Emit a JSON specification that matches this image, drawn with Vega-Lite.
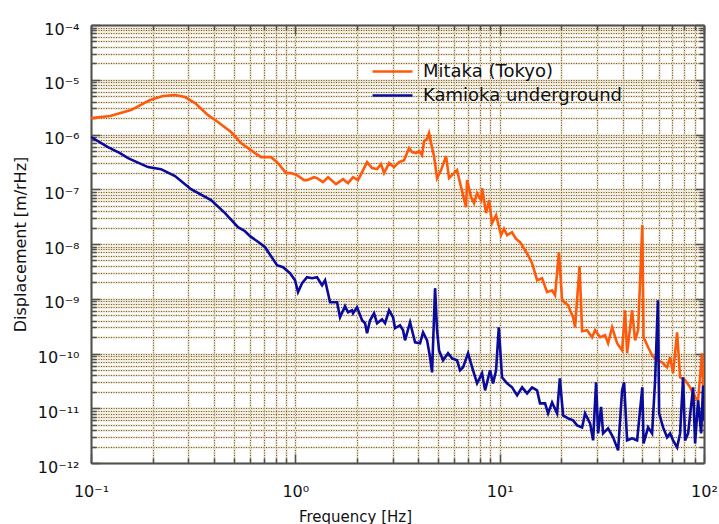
{
  "$schema": "https://vega.github.io/schema/vega-lite/v6.json",
  "autosize": {"type": "none"},
  "width": 613,
  "height": 438,
  "padding": {"left": 91, "top": 25, "right": 15, "bottom": 61},
  "background": "white",
  "config": {
    "font": "DejaVu Sans",
    "view": {"stroke": null},
    "axis": {
      "domainColor": "#505050",
      "domainWidth": 2,
      "tickColor": "#505050",
      "tickWidth": 1.5,
      "labelFont": "DejaVu Sans",
      "labelFontSize": 16,
      "labelColor": "#111111",
      "titleFont": "DejaVu Sans",
      "titleFontSize": 15,
      "titleFontWeight": "normal",
      "titleColor": "#111111",
      "labelOverlap": false,
      "labelFlush": false,
      "labelBound": false
    }
  },
  "data": {
    "values": [
      {"series":"Mitaka (Tokyo)","f":0.1,"d":1.99e-6},
      {"series":"Mitaka (Tokyo)","f":0.124,"d":2.17e-6},
      {"series":"Mitaka (Tokyo)","f":0.157,"d":2.79e-6},
      {"series":"Mitaka (Tokyo)","f":0.1945,"d":4.26e-6},
      {"series":"Mitaka (Tokyo)","f":0.225,"d":5.04e-6},
      {"series":"Mitaka (Tokyo)","f":0.2577,"d":5.25e-6},
      {"series":"Mitaka (Tokyo)","f":0.2884,"d":4.83e-6},
      {"series":"Mitaka (Tokyo)","f":0.323,"d":3.75e-6},
      {"series":"Mitaka (Tokyo)","f":0.374,"d":2.26e-6},
      {"series":"Mitaka (Tokyo)","f":0.418,"d":1.69e-6},
      {"series":"Mitaka (Tokyo)","f":0.4845,"d":1.11e-6},
      {"series":"Mitaka (Tokyo)","f":0.542,"d":6.96e-7},
      {"series":"Mitaka (Tokyo)","f":0.587,"d":5.64e-7},
      {"series":"Mitaka (Tokyo)","f":0.635,"d":4.57e-7},
      {"series":"Mitaka (Tokyo)","f":0.68,"d":3.86e-7},
      {"series":"Mitaka (Tokyo)","f":0.76,"d":3.86e-7},
      {"series":"Mitaka (Tokyo)","f":0.823,"d":3.0e-7},
      {"series":"Mitaka (Tokyo)","f":0.901,"d":1.97e-7},
      {"series":"Mitaka (Tokyo)","f":0.953,"d":1.97e-7},
      {"series":"Mitaka (Tokyo)","f":1.019,"d":1.81e-7},
      {"series":"Mitaka (Tokyo)","f":1.103,"d":1.47e-7},
      {"series":"Mitaka (Tokyo)","f":1.141,"d":1.47e-7},
      {"series":"Mitaka (Tokyo)","f":1.234,"d":1.66e-7},
      {"series":"Mitaka (Tokyo)","f":1.277,"d":1.6e-7},
      {"series":"Mitaka (Tokyo)","f":1.366,"d":1.35e-7},
      {"series":"Mitaka (Tokyo)","f":1.446,"d":1.66e-7},
      {"series":"Mitaka (Tokyo)","f":1.582,"d":1.24e-7},
      {"series":"Mitaka (Tokyo)","f":1.712,"d":1.53e-7},
      {"series":"Mitaka (Tokyo)","f":1.811,"d":1.29e-7},
      {"series":"Mitaka (Tokyo)","f":1.916,"d":1.66e-7},
      {"series":"Mitaka (Tokyo)","f":2.027,"d":1.47e-7},
      {"series":"Mitaka (Tokyo)","f":2.145,"d":2.24e-7},
      {"series":"Mitaka (Tokyo)","f":2.244,"d":3.13e-7},
      {"series":"Mitaka (Tokyo)","f":2.374,"d":2.43e-7},
      {"series":"Mitaka (Tokyo)","f":2.511,"d":2.33e-7},
      {"series":"Mitaka (Tokyo)","f":2.627,"d":2.88e-7},
      {"series":"Mitaka (Tokyo)","f":2.718,"d":1.97e-7},
      {"series":"Mitaka (Tokyo)","f":2.875,"d":3.0e-7},
      {"series":"Mitaka (Tokyo)","f":3.042,"d":2.54e-7},
      {"series":"Mitaka (Tokyo)","f":3.218,"d":3.13e-7},
      {"series":"Mitaka (Tokyo)","f":3.405,"d":3.4e-7},
      {"series":"Mitaka (Tokyo)","f":3.602,"d":5.64e-7},
      {"series":"Mitaka (Tokyo)","f":3.726,"d":4.77e-7},
      {"series":"Mitaka (Tokyo)","f":3.898,"d":4.57e-7},
      {"series":"Mitaka (Tokyo)","f":4.032,"d":4.97e-7},
      {"series":"Mitaka (Tokyo)","f":4.171,"d":4.2e-7},
      {"series":"Mitaka (Tokyo)","f":4.266,"d":7.57e-7},
      {"series":"Mitaka (Tokyo)","f":4.413,"d":8.24e-7},
      {"series":"Mitaka (Tokyo)","f":4.512,"d":1.06e-6},
      {"series":"Mitaka (Tokyo)","f":4.615,"d":6.96e-7},
      {"series":"Mitaka (Tokyo)","f":4.774,"d":4.03e-7},
      {"series":"Mitaka (Tokyo)","f":4.938,"d":1.6e-7},
      {"series":"Mitaka (Tokyo)","f":5.166,"d":2.24e-7},
      {"series":"Mitaka (Tokyo)","f":5.466,"d":4.03e-7},
      {"series":"Mitaka (Tokyo)","f":5.654,"d":1.6e-7},
      {"series":"Mitaka (Tokyo)","f":5.982,"d":1.97e-7},
      {"series":"Mitaka (Tokyo)","f":6.187,"d":2.24e-7},
      {"series":"Mitaka (Tokyo)","f":6.473,"d":1.09e-7},
      {"series":"Mitaka (Tokyo)","f":6.849,"d":4.71e-8},
      {"series":"Mitaka (Tokyo)","f":6.925,"d":1.47e-7},
      {"series":"Mitaka (Tokyo)","f":7.244,"d":7.17e-8},
      {"series":"Mitaka (Tokyo)","f":7.494,"d":5.57e-8},
      {"series":"Mitaka (Tokyo)","f":7.752,"d":8.48e-8},
      {"series":"Mitaka (Tokyo)","f":8.11,"d":6.32e-8},
      {"series":"Mitaka (Tokyo)","f":8.202,"d":1.05e-7},
      {"series":"Mitaka (Tokyo)","f":8.58,"d":3.66e-8},
      {"series":"Mitaka (Tokyo)","f":8.876,"d":6.32e-8},
      {"series":"Mitaka (Tokyo)","f":9.18,"d":2.4e-8},
      {"series":"Mitaka (Tokyo)","f":9.603,"d":3.36e-8},
      {"series":"Mitaka (Tokyo)","f":10.16,"d":1.45e-8},
      {"series":"Mitaka (Tokyo)","f":10.5,"d":1.9e-8},
      {"series":"Mitaka (Tokyo)","f":10.87,"d":1.45e-8},
      {"series":"Mitaka (Tokyo)","f":11.5,"d":1.64e-8},
      {"series":"Mitaka (Tokyo)","f":12.0,"d":1.25e-8},
      {"series":"Mitaka (Tokyo)","f":12.59,"d":1.08e-8},
      {"series":"Mitaka (Tokyo)","f":13.31,"d":7.7e-9},
      {"series":"Mitaka (Tokyo)","f":13.77,"d":6.24e-9},
      {"series":"Mitaka (Tokyo)","f":14.41,"d":4.46e-9},
      {"series":"Mitaka (Tokyo)","f":15.24,"d":2.18e-9},
      {"series":"Mitaka (Tokyo)","f":16.13,"d":2.37e-9},
      {"series":"Mitaka (Tokyo)","f":17.06,"d":1.32e-9},
      {"series":"Mitaka (Tokyo)","f":18.05,"d":1.43e-9},
      {"series":"Mitaka (Tokyo)","f":18.67,"d":1.16e-9},
      {"series":"Mitaka (Tokyo)","f":19.5,"d":7.08e-9},
      {"series":"Mitaka (Tokyo)","f":20.21,"d":9.39e-10},
      {"series":"Mitaka (Tokyo)","f":21.61,"d":7.61e-10},
      {"series":"Mitaka (Tokyo)","f":22.87,"d":4.59e-10},
      {"series":"Mitaka (Tokyo)","f":23.39,"d":3.01e-10},
      {"series":"Mitaka (Tokyo)","f":24.6,"d":3.93e-9},
      {"series":"Mitaka (Tokyo)","f":25.32,"d":2.55e-10},
      {"series":"Mitaka (Tokyo)","f":26.78,"d":2.66e-10},
      {"series":"Mitaka (Tokyo)","f":28.33,"d":1.98e-10},
      {"series":"Mitaka (Tokyo)","f":29.31,"d":2.66e-10},
      {"series":"Mitaka (Tokyo)","f":31.01,"d":1.98e-10},
      {"series":"Mitaka (Tokyo)","f":32.81,"d":2.15e-10},
      {"series":"Mitaka (Tokyo)","f":33.93,"d":1.54e-10},
      {"series":"Mitaka (Tokyo)","f":35.5,"d":3.01e-10},
      {"series":"Mitaka (Tokyo)","f":37.56,"d":1.54e-10},
      {"series":"Mitaka (Tokyo)","f":39.73,"d":1.14e-10},
      {"series":"Mitaka (Tokyo)","f":41.1,"d":6.16e-10},
      {"series":"Mitaka (Tokyo)","f":42.04,"d":1.01e-10},
      {"series":"Mitaka (Tokyo)","f":44.48,"d":6.16e-10},
      {"series":"Mitaka (Tokyo)","f":46.01,"d":1.74e-10},
      {"series":"Mitaka (Tokyo)","f":47.6,"d":2.66e-10},
      {"series":"Mitaka (Tokyo)","f":49.9,"d":2.21e-8},
      {"series":"Mitaka (Tokyo)","f":50.6,"d":1.98e-10},
      {"series":"Mitaka (Tokyo)","f":53.27,"d":1.3e-10},
      {"series":"Mitaka (Tokyo)","f":55.72,"d":9.27e-11},
      {"series":"Mitaka (Tokyo)","f":58.96,"d":7.51e-11},
      {"series":"Mitaka (Tokyo)","f":62.36,"d":6.9e-11},
      {"series":"Mitaka (Tokyo)","f":65.97,"d":5.59e-11},
      {"series":"Mitaka (Tokyo)","f":68.24,"d":8.52e-11},
      {"series":"Mitaka (Tokyo)","f":70.59,"d":4.34e-11},
      {"series":"Mitaka (Tokyo)","f":73.85,"d":2.44e-10},
      {"series":"Mitaka (Tokyo)","f":76.39,"d":3.67e-11},
      {"series":"Mitaka (Tokyo)","f":80.82,"d":3.24e-11},
      {"series":"Mitaka (Tokyo)","f":85.5,"d":2.41e-11},
      {"series":"Mitaka (Tokyo)","f":90.45,"d":1.58e-11},
      {"series":"Mitaka (Tokyo)","f":93.57,"d":1.39e-11},
      {"series":"Mitaka (Tokyo)","f":97.88,"d":1.01e-10},
      {"series":"Mitaka (Tokyo)","f":98.99,"d":2.85e-11},
      {"series":"Mitaka (Tokyo)","f":100,"d":1.39e-11},
      {"series":"Kamioka underground","f":0.1,"d":8.96e-7},
      {"series":"Kamioka underground","f":0.1211,"d":5.88e-7},
      {"series":"Kamioka underground","f":0.1386,"d":4.57e-7},
      {"series":"Kamioka underground","f":0.1518,"d":3.7e-7},
      {"series":"Kamioka underground","f":0.1901,"d":2.54e-7},
      {"series":"Kamioka underground","f":0.2201,"d":2.33e-7},
      {"series":"Kamioka underground","f":0.2577,"d":1.74e-7},
      {"series":"Kamioka underground","f":0.3087,"d":1.0e-7},
      {"series":"Kamioka underground","f":0.3867,"d":6.32e-8},
      {"series":"Kamioka underground","f":0.4528,"d":3.66e-8},
      {"series":"Kamioka underground","f":0.5243,"d":2.03e-8},
      {"series":"Kamioka underground","f":0.5673,"d":1.71e-8},
      {"series":"Kamioka underground","f":0.6005,"d":1.39e-8},
      {"series":"Kamioka underground","f":0.6718,"d":1.03e-8},
      {"series":"Kamioka underground","f":0.7108,"d":8.74e-9},
      {"series":"Kamioka underground","f":0.8136,"d":4.1e-9},
      {"series":"Kamioka underground","f":0.8706,"d":3.77e-9},
      {"series":"Kamioka underground","f":0.9421,"d":2.93e-9},
      {"series":"Kamioka underground","f":0.9966,"d":2.18e-9},
      {"series":"Kamioka underground","f":1.031,"d":1.32e-9},
      {"series":"Kamioka underground","f":1.079,"d":1.92e-9},
      {"series":"Kamioka underground","f":1.141,"d":2.47e-9},
      {"series":"Kamioka underground","f":1.207,"d":2.37e-9},
      {"series":"Kamioka underground","f":1.277,"d":2.47e-9},
      {"series":"Kamioka underground","f":1.351,"d":1.77e-9},
      {"series":"Kamioka underground","f":1.398,"d":2.18e-9},
      {"series":"Kamioka underground","f":1.479,"d":8.63e-10},
      {"series":"Kamioka underground","f":1.6,"d":8.63e-10},
      {"series":"Kamioka underground","f":1.655,"d":4.59e-10},
      {"series":"Kamioka underground","f":1.751,"d":7.32e-10},
      {"series":"Kamioka underground","f":1.811,"d":5.66e-10},
      {"series":"Kamioka underground","f":1.894,"d":6.16e-10},
      {"series":"Kamioka underground","f":1.916,"d":5.43e-10},
      {"series":"Kamioka underground","f":2.004,"d":6.99e-10},
      {"series":"Kamioka underground","f":2.121,"d":4.05e-10},
      {"series":"Kamioka underground","f":2.194,"d":3.57e-10},
      {"series":"Kamioka underground","f":2.244,"d":2.34e-10},
      {"series":"Kamioka underground","f":2.321,"d":4.05e-10},
      {"series":"Kamioka underground","f":2.428,"d":5.43e-10},
      {"series":"Kamioka underground","f":2.511,"d":3.57e-10},
      {"series":"Kamioka underground","f":2.657,"d":4.22e-10},
      {"series":"Kamioka underground","f":2.749,"d":3.57e-10},
      {"series":"Kamioka underground","f":2.875,"d":6.16e-10},
      {"series":"Kamioka underground","f":3.008,"d":4.59e-10},
      {"series":"Kamioka underground","f":3.076,"d":2.89e-10},
      {"series":"Kamioka underground","f":3.254,"d":3.28e-10},
      {"series":"Kamioka underground","f":3.367,"d":2.66e-10},
      {"series":"Kamioka underground","f":3.443,"d":1.74e-10},
      {"series":"Kamioka underground","f":3.643,"d":3.72e-10},
      {"series":"Kamioka underground","f":3.854,"d":1.6e-10},
      {"series":"Kamioka underground","f":4.077,"d":1.54e-10},
      {"series":"Kamioka underground","f":4.218,"d":2.44e-10},
      {"series":"Kamioka underground","f":4.413,"d":1.74e-10},
      {"series":"Kamioka underground","f":4.564,"d":8.52e-11},
      {"series":"Kamioka underground","f":4.668,"d":4.53e-11},
      {"series":"Kamioka underground","f":4.829,"d":1.56e-9},
      {"series":"Kamioka underground","f":4.938,"d":2.66e-10},
      {"series":"Kamioka underground","f":5.051,"d":1.14e-10},
      {"series":"Kamioka underground","f":5.284,"d":7.51e-11},
      {"series":"Kamioka underground","f":5.59,"d":1.01e-10},
      {"series":"Kamioka underground","f":5.848,"d":8.15e-11},
      {"series":"Kamioka underground","f":6.187,"d":7.51e-11},
      {"series":"Kamioka underground","f":6.4,"d":4.93e-11},
      {"series":"Kamioka underground","f":6.62,"d":5.59e-11},
      {"series":"Kamioka underground","f":7.003,"d":1.01e-10},
      {"series":"Kamioka underground","f":7.41,"d":4.93e-11},
      {"series":"Kamioka underground","f":7.752,"d":2.85e-11},
      {"series":"Kamioka underground","f":8.202,"d":4.34e-11},
      {"series":"Kamioka underground","f":8.484,"d":2.12e-11},
      {"series":"Kamioka underground","f":8.974,"d":4.93e-11},
      {"series":"Kamioka underground","f":9.284,"d":2.85e-11},
      {"series":"Kamioka underground","f":9.603,"d":4.93e-11},
      {"series":"Kamioka underground","f":9.9,"d":3.01e-10},
      {"series":"Kamioka underground","f":10.27,"d":3.67e-11},
      {"series":"Kamioka underground","f":10.87,"d":2.85e-11},
      {"series":"Kamioka underground","f":11.5,"d":2.41e-11},
      {"series":"Kamioka underground","f":12.17,"d":1.72e-11},
      {"series":"Kamioka underground","f":12.88,"d":2.41e-11},
      {"series":"Kamioka underground","f":13.62,"d":1.87e-11},
      {"series":"Kamioka underground","f":14.41,"d":2.41e-11},
      {"series":"Kamioka underground","f":15.24,"d":2.12e-11},
      {"series":"Kamioka underground","f":15.76,"d":1.23e-11},
      {"series":"Kamioka underground","f":16.68,"d":1.23e-11},
      {"series":"Kamioka underground","f":17.26,"d":8.06e-12},
      {"series":"Kamioka underground","f":18.05,"d":1.28e-11},
      {"series":"Kamioka underground","f":19.1,"d":8.06e-12},
      {"series":"Kamioka underground","f":19.7,"d":3.52e-11},
      {"series":"Kamioka underground","f":20.44,"d":7.41e-12},
      {"series":"Kamioka underground","f":21.61,"d":6.54e-12},
      {"series":"Kamioka underground","f":22.87,"d":6.01e-12},
      {"series":"Kamioka underground","f":23.93,"d":4.87e-12},
      {"series":"Kamioka underground","f":25.32,"d":4.47e-12},
      {"series":"Kamioka underground","f":26.18,"d":8.06e-12},
      {"series":"Kamioka underground","f":27.7,"d":5.3e-12},
      {"series":"Kamioka underground","f":28.66,"d":2.59e-12},
      {"series":"Kamioka underground","f":29.64,"d":2.98e-11},
      {"series":"Kamioka underground","f":30.32,"d":3.47e-12},
      {"series":"Kamioka underground","f":31.36,"d":1.06e-11},
      {"series":"Kamioka underground","f":32.07,"d":3.47e-12},
      {"series":"Kamioka underground","f":33.93,"d":4.29e-12},
      {"series":"Kamioka underground","f":35.91,"d":2.94e-12},
      {"series":"Kamioka underground","f":37.99,"d":1.7e-12},
      {"series":"Kamioka underground","f":39.73,"d":2.12e-11},
      {"series":"Kamioka underground","f":40.64,"d":2.98e-11},
      {"series":"Kamioka underground","f":42.04,"d":2.59e-12},
      {"series":"Kamioka underground","f":44.48,"d":2.82e-12},
      {"series":"Kamioka underground","f":47.06,"d":2.59e-12},
      {"series":"Kamioka underground","f":49.9,"d":2.41e-11},
      {"series":"Kamioka underground","f":50.6,"d":2.28e-12},
      {"series":"Kamioka underground","f":53.27,"d":4.47e-12},
      {"series":"Kamioka underground","f":55.72,"d":3.47e-12},
      {"series":"Kamioka underground","f":57.64,"d":3.24e-11},
      {"series":"Kamioka underground","f":59.5,"d":9.39e-10},
      {"series":"Kamioka underground","f":60.3,"d":8.06e-12},
      {"series":"Kamioka underground","f":63.07,"d":4.47e-12},
      {"series":"Kamioka underground","f":65.97,"d":2.94e-12},
      {"series":"Kamioka underground","f":68.24,"d":3.47e-12},
      {"series":"Kamioka underground","f":70.59,"d":2.59e-12},
      {"series":"Kamioka underground","f":73.85,"d":1.93e-12},
      {"series":"Kamioka underground","f":76.39,"d":3.47e-12},
      {"series":"Kamioka underground","f":79.02,"d":3.67e-11},
      {"series":"Kamioka underground","f":80.82,"d":2.59e-12},
      {"series":"Kamioka underground","f":83.59,"d":3.47e-12},
      {"series":"Kamioka underground","f":88.45,"d":2.41e-11},
      {"series":"Kamioka underground","f":90.45,"d":2.28e-12},
      {"series":"Kamioka underground","f":93.57,"d":1.39e-11},
      {"series":"Kamioka underground","f":96.8,"d":3.47e-12},
      {"series":"Kamioka underground","f":98.99,"d":2.6e-11},
      {"series":"Kamioka underground","f":100,"d":6.01e-12}
    ]
  },
  "layer": [
    {
      "mark": {"type": "line", "strokeWidth": 2.6, "clip": true},
      "encoding": {
        "x": {
          "field": "f", "type": "quantitative",
          "scale": {"type": "log", "domain": [0.1, 100], "nice": false},
          "axis": {
            "orient": "bottom",
            "values": [0.1,0.2,0.3,0.4,0.5,0.6,0.7,0.8,0.9,1,2,3,4,5,6,7,8,9,10,20,30,40,50,60,70,80,90,100],
            "grid": true, "gridColor": "#e6ddca", "gridWidth": 2,
            "tickSize": {"condition": {"test": "indexof([0.1,1,10,100], datum.value) >= 0", "value": -9}, "value": -5},
            "labelExpr": "datum.value == 0.1 ? '10⁻¹' : datum.value == 1 ? '10⁰' : datum.value == 10 ? '10¹' : datum.value == 100 ? '10²' : ''",
            "labelBaseline": "top",
            "labelPadding": 29,
            "title": "Frequency [Hz]",
            "titleX": 264, "titleY": 58, "titleBaseline": "alphabetic", "titleAlign": "center"
          }
        },
        "y": {
          "field": "d", "type": "quantitative",
          "scale": {"type": "log", "domain": [1e-12, 1e-4], "nice": false},
          "axis": {
            "orient": "left",
            "values": [1e-12,2e-12,3e-12,4e-12,5e-12,6e-12,7e-12,8e-12,9e-12,1e-11,2e-11,3e-11,4e-11,5e-11,6e-11,7e-11,8e-11,9e-11,1e-10,2e-10,3e-10,4e-10,5e-10,6e-10,7e-10,8e-10,9e-10,1e-9,2e-9,3e-9,4e-9,5e-9,6e-9,7e-9,8e-9,9e-9,1e-8,2e-8,3e-8,4e-8,5e-8,6e-8,7e-8,8e-8,9e-8,1e-7,2e-7,3e-7,4e-7,5e-7,6e-7,7e-7,8e-7,9e-7,1e-6,2e-6,3e-6,4e-6,5e-6,6e-6,7e-6,8e-6,9e-6,1e-5,2e-5,3e-5,4e-5,5e-5,6e-5,7e-5,8e-5,9e-5,1e-4],
            "grid": true, "gridColor": "#e6ddca", "gridWidth": 2,
            "tickSize": {"condition": {"test": "indexof([1e-12,1e-11,1e-10,1e-9,1e-8,1e-7,1e-6,1e-5,1e-4], datum.value) >= 0", "value": -9}, "value": -5},
            "labelExpr": "indexof([1e-12,1e-11,1e-10,1e-9,1e-8,1e-7,1e-6,1e-5,1e-4], datum.value) >= 0 ? ['10⁻¹²','10⁻¹¹','10⁻¹⁰','10⁻⁹','10⁻⁸','10⁻⁷','10⁻⁶','10⁻⁵','10⁻⁴'][indexof([1e-12,1e-11,1e-10,1e-9,1e-8,1e-7,1e-6,1e-5,1e-4], datum.value)] : ''",
            "labelPadding": 21,
            "labelOffset": 4,
            "title": "Displacement [m/rHz]",
            "titleX": -71, "titleY": 219, "titleBaseline": "middle", "titleAlign": "center", "titleAngle": -90,
            "titleFontSize": 16
          }
        },
        "color": {
          "field": "series", "type": "nominal",
          "scale": {"domain": ["Mitaka (Tokyo)", "Kamioka underground"], "range": ["#ff5a0a", "#0b0b9b"]},
          "legend": {
            "orient": "none", "legendX": 290, "legendY": 35, "title": null,
            "symbolType": "M-2,0L2,0", "symbolSize": 400, "symbolStrokeWidth": 2.5,
            "symbolFillColor": "transparent",
            "labelFont": "DejaVu Sans", "labelFontSize": 18, "labelColor": "#111111",
            "labelLimit": 400,
            "labelOffset": 19, "padding": 0, "rowPadding": 3
          }
        }
      }
    },
    {
      "mark": {"type": "line", "opacity": 0},
      "encoding": {
        "x": {
          "field": "f", "type": "quantitative",
          "scale": {"type": "log", "domain": [0.1, 100], "nice": false},
          "axis": {
            "orient": "top", "labels": false, "title": null,
            "values": [0.1,0.2,0.3,0.4,0.5,0.6,0.7,0.8,0.9,1,2,3,4,5,6,7,8,9,10,20,30,40,50,60,70,80,90,100],
            "grid": true, "gridColor": "#7a5e24", "gridDash": [1, 1.5], "gridWidth": 1,
            "tickSize": {"condition": {"test": "indexof([0.1,1,10,100], datum.value) >= 0", "value": -9}, "value": -5}
          }
        },
        "y": {
          "field": "d", "type": "quantitative",
          "scale": {"type": "log", "domain": [1e-12, 1e-4], "nice": false},
          "axis": {
            "orient": "right", "labels": false, "title": null,
            "values": [1e-12,2e-12,3e-12,4e-12,5e-12,6e-12,7e-12,8e-12,9e-12,1e-11,2e-11,3e-11,4e-11,5e-11,6e-11,7e-11,8e-11,9e-11,1e-10,2e-10,3e-10,4e-10,5e-10,6e-10,7e-10,8e-10,9e-10,1e-9,2e-9,3e-9,4e-9,5e-9,6e-9,7e-9,8e-9,9e-9,1e-8,2e-8,3e-8,4e-8,5e-8,6e-8,7e-8,8e-8,9e-8,1e-7,2e-7,3e-7,4e-7,5e-7,6e-7,7e-7,8e-7,9e-7,1e-6,2e-6,3e-6,4e-6,5e-6,6e-6,7e-6,8e-6,9e-6,1e-5,2e-5,3e-5,4e-5,5e-5,6e-5,7e-5,8e-5,9e-5,1e-4],
            "grid": true, "gridColor": "#7a5e24", "gridDash": [1, 1.5], "gridWidth": 1,
            "tickSize": {"condition": {"test": "indexof([1e-12,1e-11,1e-10,1e-9,1e-8,1e-7,1e-6,1e-5,1e-4], datum.value) >= 0", "value": -9}, "value": -5}
          }
        }
      }
    }
  ],
  "resolve": {"axis": {"x": "independent", "y": "independent"}}
}
